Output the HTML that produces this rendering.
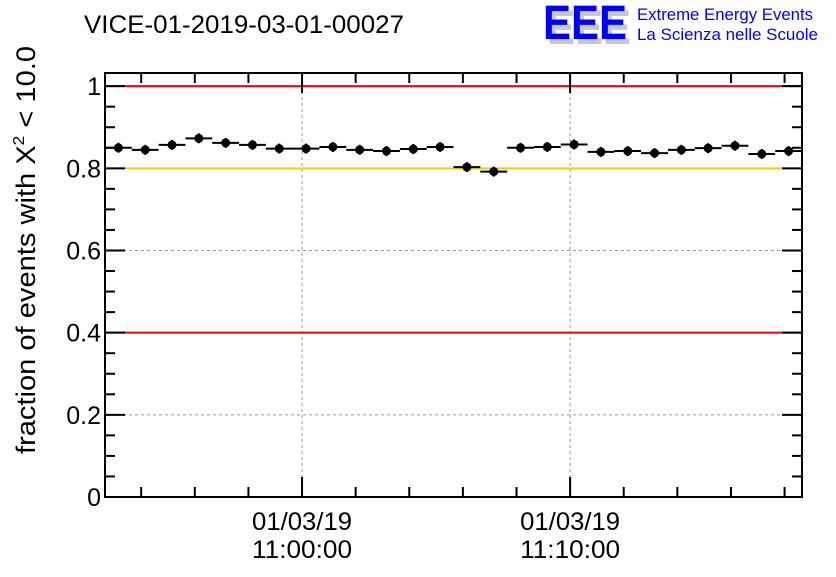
<!DOCTYPE html>
<html><head><meta charset="utf-8"><style>
body{margin:0;background:#fff;}
svg text{font-family:"Liberation Sans",sans-serif;}
</style></head><body>
<svg id="c" width="836" height="572" xmlns="http://www.w3.org/2000/svg">
<text x="84" y="33" font-size="25" textLength="320" lengthAdjust="spacingAndGlyphs">VICE-01-2019-03-01-00027</text>
<g>
<text x="547" y="44" font-size="48" font-weight="bold" fill="#c8c8c8" textLength="84" lengthAdjust="spacingAndGlyphs">EEE</text>
<text x="543" y="39" font-size="48" font-weight="bold" fill="#0000ff" textLength="84" lengthAdjust="spacingAndGlyphs">EEE</text>
<text x="637" y="20" font-size="17" fill="#0000ff" textLength="176" lengthAdjust="spacingAndGlyphs">Extreme Energy Events</text>
<text x="637" y="40" font-size="17" fill="#0000ff" textLength="181" lengthAdjust="spacingAndGlyphs">La Scienza nelle Scuole</text>
</g>
<text transform="translate(35,250) rotate(-90)" text-anchor="middle" font-size="27" textLength="408" lengthAdjust="spacingAndGlyphs">fraction of events with X<tspan dy="-11" font-size="16">2</tspan><tspan dy="11"> &lt; 10.0</tspan></text>
<g id="plot"></g>
</svg>
<script>
const values=[0.850,0.845,0.857,0.873,0.862,0.857,0.848,0.848,0.852,0.845,0.842,0.847,0.852,0.803,0.792,0.850,0.852,0.858,0.840,0.842,0.837,0.845,0.849,0.855,0.835,0.842];
const yTicks=[0,0.2,0.4,0.6,0.8,1];
const yTickLabels=["0","0.2","0.4","0.6","0.8","1"];
const xTickMinutes=[7.35,17.35];
const xTickLabels=[["01/03/19","11:00:00"],["01/03/19","11:10:00"]];
const refLines=[1.0,0.8,0.4];
const refColors=["#ff0000","#ffcc00","#ff0000"];

const L=105,R=802,T=73,B=497;
const xMin=0,xMax=26,yMin=0,yMax=1.032;
const X=v=>L+(v-xMin)/(xMax-xMin)*(R-L);
const Y=v=>B-(v-yMin)/(yMax-yMin)*(B-T);
const NS="http://www.w3.org/2000/svg";
const g=document.getElementById('plot');
function mk(t,a){const e=document.createElementNS(NS,t);for(const k in a)e.setAttribute(k,a[k]);g.appendChild(e);return e;}

yTicks.forEach(v=>{if(v>0&&v<1){const e=mk('line',{x1:L,x2:R,y1:Y(v),y2:Y(v),stroke:'#999','stroke-dasharray':'3,3','stroke-width':1});

}});
xTickMinutes.forEach(m=>{const e=mk('line',{x1:X(m),x2:X(m),y1:T,y2:B,stroke:'#999','stroke-dasharray':'3,3','stroke-width':1});

});
refLines.forEach((v,i)=>{const e=mk('line',{x1:L,x2:R,y1:Y(v),y2:Y(v),stroke:refColors[i],'stroke-width':2});

});
const fr=mk('rect',{x:L,y:T,width:R-L,height:B-T,fill:'none',stroke:'#000','stroke-width':2});


for(let v=0;v<=yMax+1e-9;v+=0.05){const major=Math.abs(v*5-Math.round(v*5))<1e-6;const len=major?20:10;
const a=mk('line',{x1:L,x2:L+len,y1:Y(v),y2:Y(v),stroke:'#000','stroke-width':2});


const b=mk('line',{x1:R-len,x2:R,y1:Y(v),y2:Y(v),stroke:'#000','stroke-width':2});

}
yTicks.forEach((v,i)=>{const t=mk('text',{x:L-4,y:Y(v)+9,'text-anchor':'end','font-size':25});t.textContent=yTickLabels[i];

});
for(let m=xTickMinutes[0]-6;m<=xMax;m+=2){if(m<xMin)continue;const major=xTickMinutes.some(t=>Math.abs(t-m)<1e-6);const len=major?20:10;
const a=mk('line',{x1:X(m),x2:X(m),y1:B-len,y2:B,stroke:'#000','stroke-width':2});


const b=mk('line',{x1:X(m),x2:X(m),y1:T,y2:T+len,stroke:'#000','stroke-width':2});

}
xTickMinutes.forEach((m,i)=>{xTickLabels[i].forEach((s,j)=>{const t=mk('text',{x:X(m),y:530+j*28,'text-anchor':'middle','font-size':25,textLength:100,lengthAdjust:'spacingAndGlyphs'});t.textContent=s;

});});
values.forEach((v,i)=>{
const h=mk('line',{x1:X(i),x2:X(i+1),y1:Y(v),y2:Y(v),stroke:'#000','stroke-width':2});


const vv=mk('line',{x1:X(i+0.5),x2:X(i+0.5),y1:Y(v)-5,y2:Y(v)+5,stroke:'#000','stroke-width':2});


const c=mk('circle',{cx:X(i+0.5),cy:Y(v),r:4.5,fill:'#000'});


});
</script>
</body></html>
